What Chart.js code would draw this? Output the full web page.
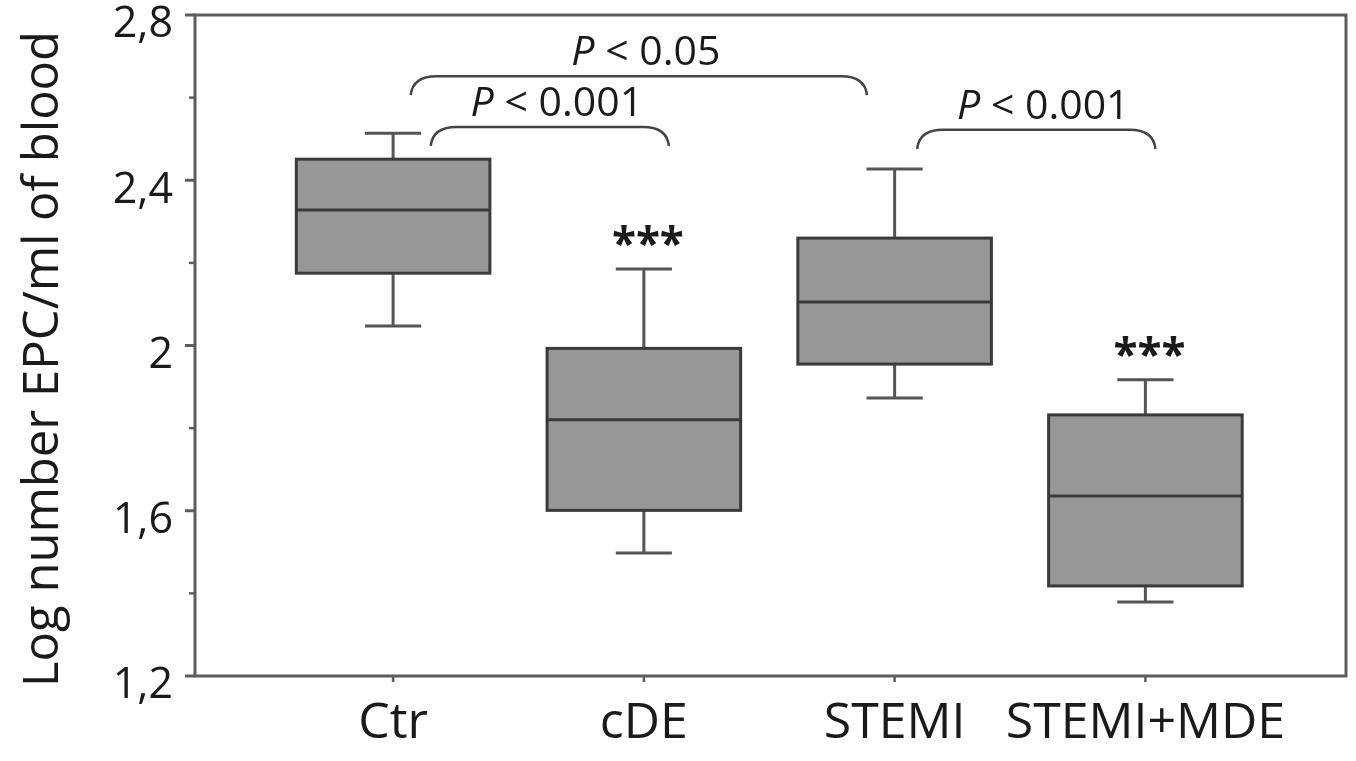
<!DOCTYPE html>
<html>
<head>
<meta charset="utf-8">
<script src="https://cdn.jsdelivr.net/npm/chart.js@4.4.1/dist/chart.umd.min.js"></script>
<style>
  html, body { margin: 0; padding: 0; background: #fff; }
</style>
</head>
<body>
<canvas id="chart" width="1356" height="761"></canvas>
<script>
// groups and box plot values (log number EPC/ml of blood)
const groups = ['Ctr', 'cDE', 'STEMI', 'STEMI+MDE'];
const whiskerLow  = [2.047, 1.498, 1.873, 1.379];
const quartile1   = [2.175, 1.601, 1.955, 1.418];
const medians     = [2.328, 1.820, 2.105, 1.636];
const quartile3   = [2.451, 1.993, 2.260, 1.832];
const whiskerHigh = [2.514, 2.185, 2.427, 1.917];
const stars = ['', '***', '', '***'];

const yTickValues = [1.2, 1.6, 2, 2.4, 2.8];
const yTickLabels = ['1,2', '1,6', '2', '2,4', '2,8'];
const yMinorTicks = [1.4, 1.8, 2.2, 2.6];
const yTitle = 'Log number EPC/ml of blood';

// significance brackets (in axis units)
const compLabels = ['< 0.05', '< 0.001', '< 0.001'];
const compStart = [0.07, 0.15, 2.09];
const compEnd = [1.89, 1.10, 3.04];
const compLevel = [2.652, 2.529, 2.522];

const FONT = 'Open Sans';
const TEXT = '#1a1a1a';

function line(ctx, x1, y1, x2, y2) {
    ctx.beginPath();
    ctx.moveTo(x1, y1);
    ctx.lineTo(x2, y2);
    ctx.stroke();
}

const boxPlugin = {
    id: 'boxplot',
    beforeDatasetsDraw(chart) {
        const ctx = chart.ctx;
        const a = chart.chartArea;
        const x = chart.scales.x, y = chart.scales.y;
        ctx.save();

        // frame round the plot
        ctx.strokeStyle = '#5c5c5c';
        ctx.lineWidth = 3;
        ctx.strokeRect(a.left, a.top, a.right - a.left, a.bottom - a.top);

        // y ticks, major and minor
        yTickValues.forEach(v => line(ctx, a.left - 10, y.getPixelForValue(v), a.left, y.getPixelForValue(v)));
        ctx.lineWidth = 2.5;
        yMinorTicks.forEach(v => line(ctx, a.left - 6, y.getPixelForValue(v), a.left, y.getPixelForValue(v)));
        // x ticks
        groups.forEach((g, i) => line(ctx, x.getPixelForValue(i), a.bottom, x.getPixelForValue(i), a.bottom + 6));

        // boxes
        groups.forEach((g, i) => {
            const cx = x.getPixelForValue(i);
            const half = x.getPixelForValue(i + 0.386) - cx;
            const cap = x.getPixelForValue(i + 0.112) - cx;
            const yLo = y.getPixelForValue(whiskerLow[i]);
            const yQ1 = y.getPixelForValue(quartile1[i]);
            const yMed = y.getPixelForValue(medians[i]);
            const yQ3 = y.getPixelForValue(quartile3[i]);
            const yHi = y.getPixelForValue(whiskerHigh[i]);

            ctx.strokeStyle = '#555555';
            ctx.lineWidth = 3;
            line(ctx, cx, yQ3, cx, yHi);
            line(ctx, cx, yQ1, cx, yLo);
            line(ctx, cx - cap, yHi, cx + cap, yHi);
            line(ctx, cx - cap, yLo, cx + cap, yLo);

            ctx.fillStyle = '#979797';
            ctx.fillRect(cx - half, yQ3, half * 2, yQ1 - yQ3);
            ctx.strokeStyle = '#3a3a3a';
            ctx.strokeRect(cx - half, yQ3, half * 2, yQ1 - yQ3);
            line(ctx, cx - half, yMed, cx + half, yMed);

            if (stars[i]) {
                ctx.fillStyle = TEXT;
                ctx.font = 'bold 44px "' + FONT + '"';
                ctx.textAlign = 'center';
                ctx.textBaseline = 'alphabetic';
                ctx.fillText(stars[i], cx + 4, yHi - 10);
            }
        });

        // brackets with p values
        compLabels.forEach((lab, k) => {
            const x0 = x.getPixelForValue(compStart[k]);
            const x1 = x.getPixelForValue(compEnd[k]);
            const yt = y.getPixelForValue(compLevel[k]);
            const drop = 19, r = 26;
            ctx.strokeStyle = '#444444';
            ctx.lineWidth = 2.5;
            ctx.beginPath();
            ctx.moveTo(x0, yt + drop);
            ctx.quadraticCurveTo(x0 + 2, yt, x0 + r, yt);
            ctx.lineTo(x1 - r, yt);
            ctx.quadraticCurveTo(x1 - 2, yt, x1, yt + drop);
            ctx.stroke();

            ctx.fillStyle = TEXT;
            ctx.textBaseline = 'alphabetic';
            ctx.textAlign = 'left';
            ctx.font = 'italic 41px "' + FONT + '"';
            const wP = ctx.measureText('P').width;
            ctx.font = '41px "' + FONT + '"';
            const rest = ' ' + lab;
            const wR = ctx.measureText(rest).width;
            const left = (x0 + x1) / 2 + 7 - (wP + wR) / 2;
            ctx.font = 'italic 41px "' + FONT + '"';
            ctx.fillText('P', left, yt - 11);
            ctx.font = '41px "' + FONT + '"';
            ctx.fillText(rest, left + wP, yt - 11);
        });

        // y axis title
        ctx.translate(58, 687);
        ctx.rotate(-Math.PI / 2);
        ctx.fillStyle = TEXT;
        ctx.font = '49px "' + FONT + '"';
        ctx.textAlign = 'left';
        ctx.textBaseline = 'alphabetic';
        ctx.fillText(yTitle, 0, 0);
        ctx.restore();
    }
};

new Chart(document.getElementById('chart'), {
    type: 'scatter',
    data: { datasets: [{ data: [] }] },
    plugins: [boxPlugin],
    options: {
        responsive: false,
        animation: false,
        devicePixelRatio: 1,
        layout: { padding: { top: 15, right: 10, left: 0, bottom: 0 } },
        plugins: { legend: { display: false }, tooltip: { enabled: false } },
        scales: {
            x: {
                type: 'linear',
                min: -0.79,
                max: 3.8,
                afterBuildTicks: s => { s.ticks = groups.map((g, i) => ({ value: i })); },
                ticks: {
                    callback: (v, i) => groups[i],
                    font: { family: FONT, size: 50 },
                    color: TEXT,
                    padding: 18,
                    maxRotation: 0,
                    autoSkip: false
                },
                grid: { display: false, drawTicks: false },
                border: { display: false },
                afterFit: s => { s.height = 85; s.paddingLeft = 0; s.paddingRight = 0; }
            },
            y: {
                min: 1.2,
                max: 2.8,
                afterBuildTicks: s => { s.ticks = yTickValues.map(v => ({ value: v })); },
                ticks: {
                    callback: (v, i) => yTickLabels[i],
                    font: { family: FONT, size: 43 },
                    color: TEXT,
                    padding: 22,
                    labelOffset: 10
                },
                grid: { display: false, drawTicks: false },
                border: { display: false },
                afterFit: s => { s.width = 195; s.paddingTop = 0; s.paddingBottom = 0; }
            }
        }
    }
});
</script>
</body>
</html>
